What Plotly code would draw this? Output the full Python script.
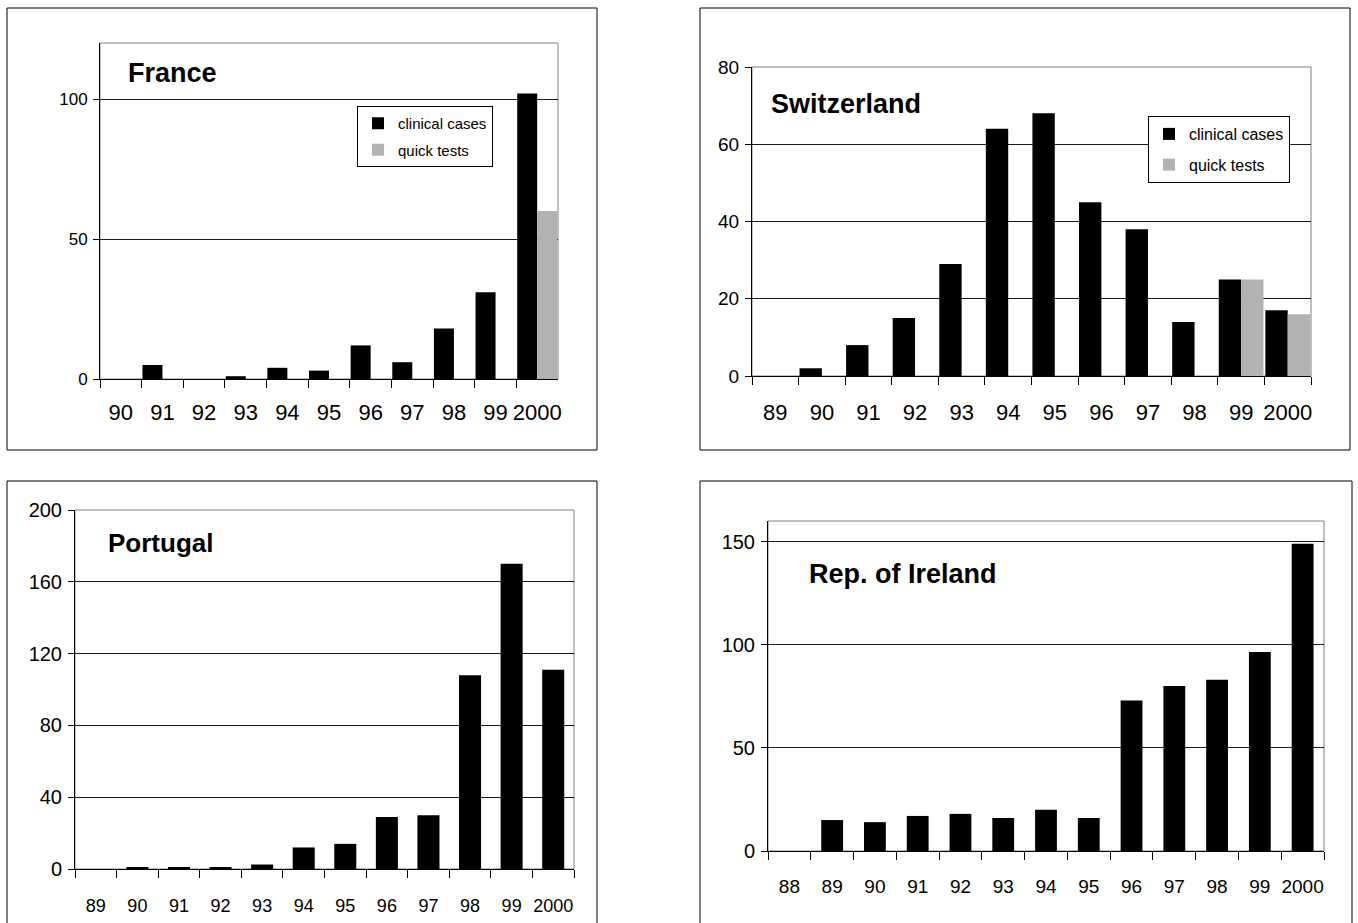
import plotly.graph_objects as go

# ---------------- data ----------------
fr_years = ["90", "91", "92", "93", "94", "95", "96", "97", "98", "99", "2000"]
fr_clinical = [0, 5, 0, 1, 4, 3, 12, 6, 18, 31, 102]
fr_quick = [None, None, None, None, None, None, None, None, None, None, 60]

ch_years = ["89", "90", "91", "92", "93", "94", "95", "96", "97", "98", "99", "2000"]
ch_clinical = [0, 2, 8, 15, 29, 64, 68, 45, 38, 14, 25, 17]
ch_quick = [None, None, None, None, None, None, None, None, None, None, 25, 16]

pt_years = ["89", "90", "91", "92", "93", "94", "95", "96", "97", "98", "99", "2000"]
pt_clinical = [0, 1, 1, 1, 2.5, 12, 14, 29, 30, 108, 170, 111]

ie_years = ["88", "89", "90", "91", "92", "93", "94", "95", "96", "97", "98", "99", "2000"]
ie_clinical = [0, 15, 14, 17, 18, 16, 20, 16, 73, 80, 83, 96.5, 149]

W, H = 1358, 923
BLACK = "#000000"
GREY = "#b2b2b2"
REG = "Liberation Sans, Arial, sans-serif"


def px(x):
    return x / W


def py(y):
    return 1 - y / H


fig = go.Figure()

# France
fig.add_trace(go.Bar(x=fr_years, y=fr_clinical, name="clinical cases", marker_color=BLACK,
                     xaxis="x", yaxis="y", legend="legend", legendgroup="a", offsetgroup="1"))
fig.add_trace(go.Bar(x=fr_years, y=fr_quick, name="quick tests", marker_color=GREY,
                     xaxis="x", yaxis="y", legend="legend", legendgroup="b", offsetgroup="2"))
# Switzerland
fig.add_trace(go.Bar(x=ch_years, y=ch_clinical, name="clinical cases", marker_color=BLACK,
                     xaxis="x2", yaxis="y2", legend="legend2", legendgroup="c", offsetgroup="1"))
fig.add_trace(go.Bar(x=ch_years, y=ch_quick, name="quick tests", marker_color=GREY,
                     xaxis="x2", yaxis="y2", legend="legend2", legendgroup="d", offsetgroup="2"))
# Portugal
fig.add_trace(go.Bar(x=pt_years, y=pt_clinical, name="clinical cases", marker_color=BLACK,
                     xaxis="x3", yaxis="y3", showlegend=False, width=0.53))
# Ireland
fig.add_trace(go.Bar(x=ie_years, y=ie_clinical, name="clinical cases", marker_color=BLACK,
                     xaxis="x4", yaxis="y4", showlegend=False, width=0.51))

fig.update_traces(marker_line_width=0, hoverinfo="x+y")


def xaxis(domain, anchor, size, standoff):
    return dict(domain=domain, anchor=anchor, type="category", showgrid=False,
                showline=True, linecolor=BLACK, linewidth=1, ticks="outside",
                tickson="boundaries", ticklen=8, tickcolor=BLACK, tickwidth=1,
                tickangle=0, automargin=False,
                tickfont=dict(family=REG, size=size, color=BLACK),
                ticklabelstandoff=standoff, zeroline=False, fixedrange=True)


def yaxis(domain, anchor, rng, dtick, size):
    return dict(domain=domain, anchor=anchor, range=rng, dtick=dtick, tick0=0,
                showgrid=True, gridcolor="#1a1a1a", gridwidth=1, automargin=False,
                showline=True, linecolor=BLACK, linewidth=1, ticks="outside",
                ticklen=6, tickcolor=BLACK, tickfont=dict(family=REG, size=size, color=BLACK),
                zeroline=False, fixedrange=True, ticklabelstandoff=2)


# plot-area pixel boxes
fr_box = (100, 558, 43, 379)
ch_box = (752, 1311, 67, 376)
pt_box = (75, 574, 510, 869)
ie_box = (768, 1324, 521, 851)


def dom(b):
    return [px(b[0]), px(b[1])], [py(b[3]), py(b[2])]


fxd, fyd = dom(fr_box)
cxd, cyd = dom(ch_box)
pxd, pyd = dom(pt_box)
ixd, iyd = dom(ie_box)

layout = dict(
    width=W, height=H, margin=dict(l=0, r=0, t=0, b=0, pad=0, autoexpand=False),
    paper_bgcolor="white", plot_bgcolor="white",
    barmode="group", bargroupgap=0, bargap=0.04,
    font=dict(family=REG, color=BLACK),
    xaxis=xaxis(fxd, "y", 22, 14),
    yaxis=yaxis(fyd, "x", [0, 120], 50, 17),
    xaxis2=xaxis(cxd, "y2", 22, 17),
    yaxis2=yaxis(cyd, "x2", [0, 80], 20, 19),
    xaxis3=xaxis(pxd, "y3", 18, 20),
    yaxis3=yaxis(pyd, "x3", [0, 200], 40, 20),
    xaxis4=xaxis(ixd, "y4", 19, 18),
    yaxis4=yaxis(iyd, "x4", [0, 160], 50, 20),
    legend=dict(x=px(357), y=py(106), xanchor="left", yanchor="top",
                bordercolor=BLACK, borderwidth=1, bgcolor="white",
                font=dict(family=REG, size=15, color=BLACK), tracegroupgap=4,
                itemwidth=30),
    legend2=dict(x=px(1148), y=py(116), xanchor="left", yanchor="top",
                 bordercolor=BLACK, borderwidth=1, bgcolor="white",
                 font=dict(family=REG, size=16, color=BLACK), tracegroupgap=7,
                 itemwidth=30),
)
fig.update_layout(**layout)

shapes = []
# outer frames
for (x0, x1, y0, y1) in [(7, 597, 8, 450), (700, 1350, 8, 450), (7, 597, 481, 940), (700, 1352, 481, 940)]:
    shapes.append(dict(type="rect", xref="paper", yref="paper", x0=px(x0), x1=px(x1),
                       y0=py(y1), y1=py(y0), line=dict(color=BLACK, width=1), layer="below"))
# plot-area borders (grey top/right)
for ax in ["", "2", "3", "4"]:
    shapes.append(dict(type="rect", xref=f"x{ax} domain", yref=f"y{ax} domain", x0=0, x1=1, y0=0, y1=1,
                       line=dict(color="#808080", width=1), layer="below"))
fig.update_layout(shapes=shapes)

annotations = [
    dict(text="<b>France</b>", x=px(126), y=py(73), font=dict(family=REG, size=27)),
    dict(text="<b>Switzerland</b>", x=px(769), y=py(104), font=dict(family=REG, size=27)),
    dict(text="<b>Portugal</b>", x=px(106), y=py(543), font=dict(family=REG, size=26)),
    dict(text="<b>Rep. of Ireland</b>", x=px(807), y=py(574), font=dict(family=REG, size=27)),
]
for a in annotations:
    a.update(xref="paper", yref="paper", xanchor="left", yanchor="middle", showarrow=False)
    a["font"]["color"] = BLACK
fig.update_layout(annotations=annotations)

post = (
    "document.documentElement.style.margin='0';"
    "document.body.style.margin='0';"
    "document.body.style.overflow='hidden';"
    "document.documentElement.style.overflow='hidden';"
    "var d=document.getElementById('{plot_id}');"
    "d.style.position='fixed';d.style.left='0px';d.style.top='0px';"
)
fig.write_html("out.html", post_script=post, config={"displayModeBar": False})
